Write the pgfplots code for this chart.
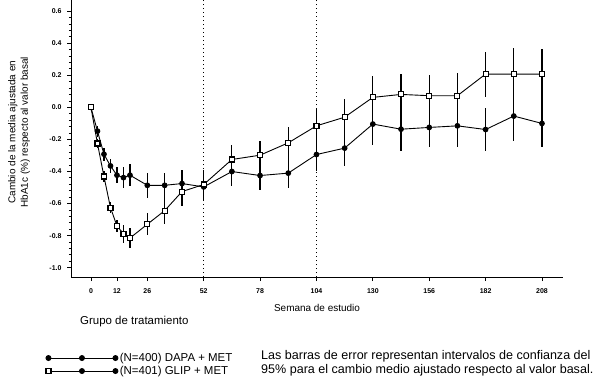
\documentclass[border=0pt]{standalone}
\usepackage{pgfplots}
\pgfplotsset{compat=1.18}
\usepackage{pgfplotstable}
\usepackage{fontspec}
\setmainfont{Liberation Sans}

\pgfplotstableread{
week mean err
0 0 0
3 -0.148 0.035
6 -0.292 0.04
9 -0.365 0.045
12 -0.423 0.05
15 -0.438 0.065
18 -0.423 0.07
26 -0.486 0.078
34 -0.486 0.078
42 -0.475 0.087
52 -0.496 0.09
65 -0.40 0.09
78 -0.425 0.092
91 -0.41 0.095
104 -0.294 0.105
117 -0.254 0.112
130 -0.104 0.13
143 -0.136 0.135
156 -0.125 0.125
169 -0.115 0.135
182 -0.138 0.135
195 -0.054 0.156
208 -0.10 0.15
}\dapa

\pgfplotstableread{
week mean err
0 0 0
3 -0.225 0.03
6 -0.431 0.035
9 -0.625 0.035
12 -0.74 0.04
15 -0.788 0.055
18 -0.815 0.06
26 -0.729 0.068
34 -0.644 0.085
42 -0.525 0.09
52 -0.481 0.09
65 -0.325 0.088
78 -0.298 0.09
91 -0.221 0.1
104 -0.115 0.102
117 -0.061 0.112
130 0.0625 0.135
143 0.081 0.13
156 0.073 0.13
169 0.073 0.14
182 0.208 0.14
195 0.208 0.16
208 0.208 0.155
}\glip

\begin{document}
\begin{tikzpicture}
\useasboundingbox (0,0) rectangle (600bp,-382bp);
\begin{axis}[
  at={(71bp,-277bp)}, anchor=south west,
  scale only axis,
  width=492bp, height=277bp,
  xmin=-9.2, xmax=217.7,
  ymin=-1.058, ymax=0.67,
  axis lines=left,
  axis line style={-, line width=1pt},
  tick align=outside,
  major tick length=4bp,
  minor tick length=2.2bp,
  tick style={black, line width=0.9pt},
  xtick={0,12,26,52,78,104,130,156,182,208},
  ytick={-1.0,-0.8,-0.6,-0.4,-0.2,0.0,0.2,0.4,0.6},
  minor y tick num=4,
  yticklabel style={/pgf/number format/fixed, /pgf/number format/fixed zerofill, /pgf/number format/precision=1, xshift=-2bp},
  ticklabel style={font=\fontsize{7}{8}\selectfont\bfseries},
  /pgf/number format/assume math mode=true,
  xticklabel style={yshift=-4bp},
  xlabel={Semana de estudio},
  xlabel style={at={(axis description cs:0.5,-0.11)}, anchor=center, font=\fontsize{10}{12}\selectfont},
  ylabel={Cambio de la media ajustada en\\HbA1c (\%) respecto al valor basal},
  ylabel style={at={(axis description cs:-0.1057,0.523)}, anchor=center, rotate=0, align=center, font=\fontsize{10}{12.5}\selectfont},
  clip=false,
  legend style={draw=none, fill=none, inner sep=0pt, outer sep=0pt,
    at={(axis description cs:-0.052,-0.316)}, anchor=west,
    font=\fontsize{11.5}{13}\selectfont,
    nodes={inner sep=0pt, text height=8.5bp, text depth=2bp},
    row sep=2.5bp, column sep=1.5bp},
  legend cell align=left,
]
\addplot[black, dash pattern=on 1.4bp off 2.6bp, line width=1.4pt, forget plot] coordinates {(52,-1.058) (52,0.67)};
\addplot[black, dash pattern=on 1.4bp off 2.6bp, line width=1.4pt, forget plot] coordinates {(104,-1.058) (104,0.67)};

\addplot[black, line width=0.9pt, mark=*, mark size=2.4bp,
  mark options={fill=black, solid},
  error bars/.cd, y dir=both, y explicit, error mark=none,
  error bar style={line width=1.2pt},
  /pgfplots/legend image code/.code={
    \draw[line width=1pt] (0bp,0bp) -- (67bp,0bp);
    \fill (0bp,0bp) circle (2.5bp);
    \fill (33.5bp,0bp) circle (2.5bp);
    \fill (67bp,0bp) circle (2.5bp);
  }]
  table[x=week, y=mean, y error=err] {\dapa};
\addlegendentry{(N=400) DAPA + MET}

\addplot[black, line width=0.9pt, mark=square*, mark size=2.5bp,
  mark options={fill=white, draw=black, line width=1.1pt, solid},
  error bars/.cd, y dir=both, y explicit, error mark=none,
  error bar style={line width=1.2pt},
  /pgfplots/legend image code/.code={
    \draw[line width=1pt] (0bp,0bp) -- (67bp,0bp);
    \draw[fill=white, line width=1.1pt] (-2.5bp,-2.5bp) rectangle (2.5bp,2.5bp);
    \fill (33.5bp,0bp) circle (2.5bp);
    \fill (67bp,0bp) circle (2.5bp);
  }]
  table[x=week, y=mean, y error=err] {\glip};
\addlegendentry{(N=401) GLIP + MET}
\end{axis}
\node[anchor=west, font=\fontsize{11.5}{13}\selectfont, inner sep=0pt] at (80bp,-322bp) {Grupo de tratamiento};
\node[anchor=north west, align=left, inner sep=0pt, font=\fontsize{12.6}{14}\selectfont] at (261bp,-350.5bp) {Las barras de error representan intervalos de confianza del\\95\% para el cambio medio ajustado respecto al valor basal.};
\end{tikzpicture}
\end{document}
